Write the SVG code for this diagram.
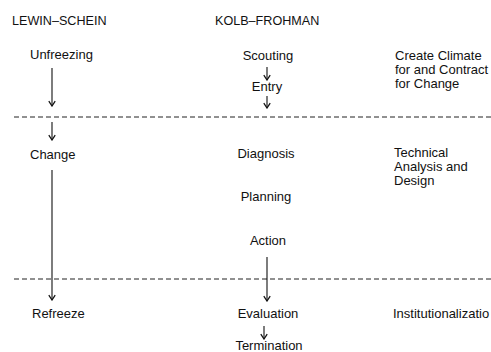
<svg xmlns="http://www.w3.org/2000/svg" width="491" height="352" viewBox="0 0 491 352">
<style>
text{font-family:"Liberation Sans",Arial,sans-serif;font-size:13px;fill:#111}
.h{font-size:12.6px}
.c{text-anchor:middle}
.ln{stroke:#111;stroke-width:1.1;fill:none}
.dash{stroke:#222;stroke-width:1;stroke-dasharray:5 3}
</style>
<defs>
<marker id="ah" viewBox="0 0 10 10" refX="9" refY="5" markerWidth="8" markerHeight="8" markerUnits="userSpaceOnUse" orient="auto">
<path d="M3 1 L9 5 L3 9" fill="none" stroke="#111" stroke-width="1.6"/>
</marker>
</defs>
<rect width="491" height="352" fill="#fff"/>
<g id="headers">
<text class="h" x="12" y="25">LEWIN–SCHEIN</text>
<text class="h" x="215" y="25">KOLB–FROHMAN</text>
</g>
<g id="separators">
<line class="dash" x1="14" y1="117" x2="491" y2="117"/>
<line class="dash" x1="14" y1="279" x2="491" y2="279"/>
</g>
<g id="connectors">
<line class="ln" x1="52" y1="68" x2="52" y2="106" marker-end="url(#ah)"/>
<line class="ln" x1="52" y1="122" x2="52" y2="140" marker-end="url(#ah)"/>
<line class="ln" x1="52" y1="170" x2="52" y2="300" marker-end="url(#ah)"/>
<line class="ln" x1="267" y1="67" x2="267" y2="80" marker-end="url(#ah)"/>
<line class="ln" x1="267" y1="96" x2="267" y2="108" marker-end="url(#ah)"/>
<line class="ln" x1="267" y1="257" x2="267" y2="301" marker-end="url(#ah)"/>
<line class="ln" x1="264" y1="326" x2="264" y2="339" marker-end="url(#ah)"/>
</g>
<g id="unfreezing"><text x="30" y="59">Unfreezing</text></g>
<g id="change"><text x="30" y="159">Change</text></g>
<g id="refreeze"><text x="32" y="318">Refreeze</text></g>
<g id="scouting"><text class="c" x="268" y="60">Scouting</text></g>
<g id="entry"><text class="c" x="267" y="91">Entry</text></g>
<g id="diagnosis"><text class="c" x="266" y="158">Diagnosis</text></g>
<g id="planning"><text class="c" x="266" y="201">Planning</text></g>
<g id="action"><text class="c" x="268" y="245">Action</text></g>
<g id="evaluation"><text class="c" x="268" y="318">Evaluation</text></g>
<g id="termination"><text class="c" x="269" y="350">Termination</text></g>
<g id="climate"><text x="395" y="60">Create Climate</text><text x="395" y="74">for and Contract</text><text x="395" y="88">for Change</text></g>
<g id="technical"><text x="394" y="157">Technical</text><text x="394" y="171">Analysis and</text><text x="394" y="185">Design</text></g>
<g id="institutionalization"><text x="393" y="318">Institutionalizatio</text></g>
</svg>
